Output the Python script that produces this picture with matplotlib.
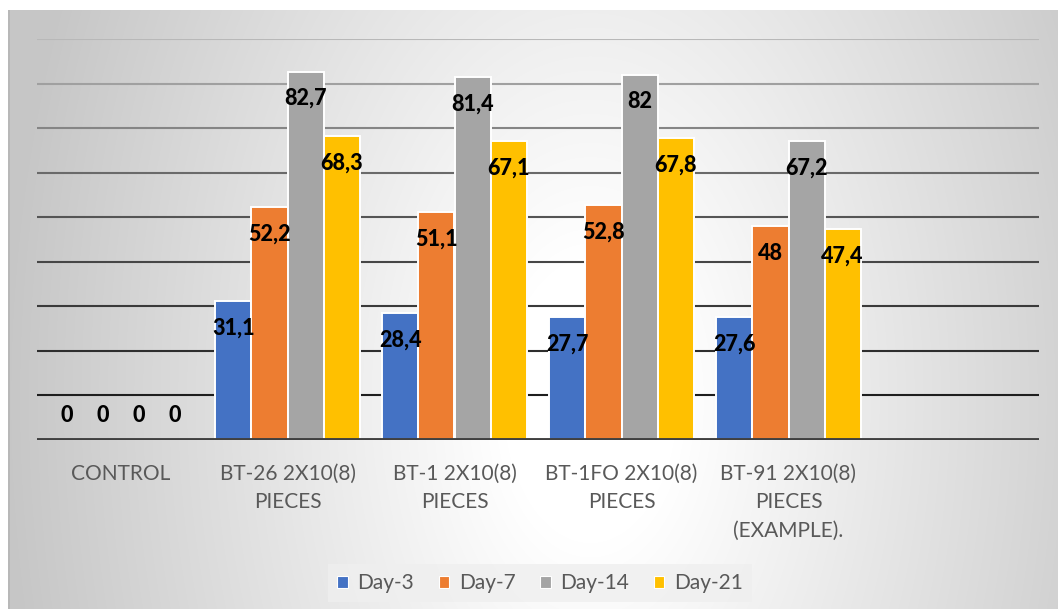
import numpy as np
import matplotlib
matplotlib.use('Agg')
from matplotlib import pyplot as plt
from matplotlib.patches import Patch

plt.rcParams['font.family'] = ['Lato', 'DejaVu Sans']

# data
categories = ["CONTROL", "BT-26 2X10(8)\nPIECES", "BT-1 2X10(8)\nPIECES",
              "BT-1FO 2X10(8)\nPIECES", "BT-91 2X10(8)\nPIECES\n(EXAMPLE).", ""]
series_names = ["Day-3", "Day-7", "Day-14", "Day-21"]
day3 = [0, 31.1, 28.4, 27.7, 27.6]
day7 = [0, 52.2, 51.1, 52.8, 48]
day14 = [0, 82.7, 81.4, 82, 67.2]
day21 = [0, 68.3, 67.1, 67.8, 47.4]
series_values = [day3, day7, day14, day21]
colors = ['#4472C4', '#ED7D31', '#A5A5A5', '#FFC000']
grid_values = [10, 20, 30, 40, 50, 60, 70, 80, 90]
grid_colors = ['#1e1e1e', '#2e2e2e', '#3a3a3a', '#464646', '#555555',
               '#6a6a6a', '#858585', '#a0a0a0', '#b8b8b8']

W, H = 1058, 609
fig = plt.figure(figsize=(W / 100, H / 100), dpi=100)
fig.patch.set_facecolor('white')

# radial-ish gradient background of the chart box
bg = fig.add_axes([8 / W, 0, 1 - 8 / W, 1 - 10 / H])
bg.set_axis_off()
yy, xx = np.mgrid[10:H, 8:W]
t = np.sqrt(((xx - 590) / 580.0) ** 2 + ((yy - 400) / 950.0) ** 2)
t = np.clip((t - 0.15) / 0.85, 0, 1)
shade = 1.0 - 0.22 * t
bg.imshow(np.dstack([shade, shade, shade]), aspect='auto', interpolation='bilinear')
# slightly darker left edge of the box
fig.add_artist(plt.Rectangle((8 / W, 0), 2 / W, 1 - 10 / H, transform=fig.transFigure,
                             color='#b8b8b8', lw=0))

ax = fig.add_axes([37 / W, 1 - 440 / H, (1039 - 37) / W, (440 - 39) / H])
ax.patch.set_alpha(0)
ax.set_xlim(-0.5, len(categories) - 0.5)
ax.set_ylim(0, 90)

for gv, gc in zip(grid_values, grid_colors):
    ax.axhline(gv, color=gc, lw=1.5, zorder=1)

bw = 0.2156
x = np.arange(len(day3))
for i, (name, vals, c) in enumerate(zip(series_names, series_values, colors)):
    xs = x + (i - 1.5) * bw
    ax.bar(xs, vals, width=bw, color=c, edgecolor='white', linewidth=1.4, zorder=2, label=name)
    for xi, v in zip(xs, vals):
        lbl = ('%g' % v).replace('.', ',')
        off = 18 if v == 0 else -19.5
        ax.annotate(lbl, (xi, v), xytext=(0, off), textcoords='offset points',
                    ha='center', va='center', fontsize=15.5, fontweight='black',
                    color='black', zorder=5)

ax.axhline(0, color='#404040', lw=2.8, zorder=3)
for s in ax.spines.values():
    s.set_visible(False)
ax.set_yticks([])
ax.set_xticks(np.arange(len(categories)))
ax.set_xticklabels(categories, fontsize=15, color='#595959', linespacing=1.55, va='top')
ax.tick_params(axis='x', length=0, pad=17)

handles = [Patch(facecolor=c, edgecolor='white', lw=0.8) for c in colors]
leg = fig.legend(handles, series_names, loc='center', bbox_to_anchor=(540 / W, 1 - 583 / H),
                 ncol=4, fontsize=15, frameon=True, fancybox=False, handlelength=0.5,
                 handleheight=0.5, handletextpad=0.45, columnspacing=1.2,
                 borderpad=0.45)
leg.get_frame().set_facecolor('#efefef')
leg.get_frame().set_edgecolor('none')
for txt in leg.get_texts():
    txt.set_color('#595959')

fig.savefig('out.png', dpi=100)
